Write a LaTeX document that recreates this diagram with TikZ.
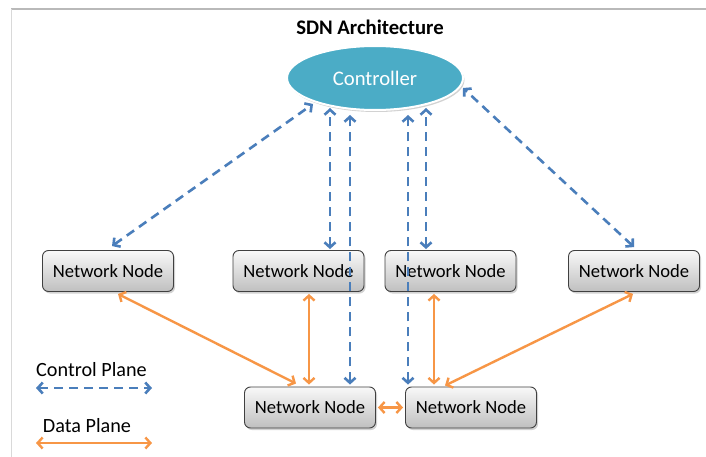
\documentclass[tikz,border=0pt]{standalone}
\usepackage{fontspec}
\setmainfont{Carlito}
\usetikzlibrary{shapes.geometric,arrows.meta,calc,shadows}
\definecolor{ctrlfill}{HTML}{4BACC6}
\definecolor{cplane}{HTML}{4A7EBB}
\definecolor{dplane}{HTML}{F79646}
\definecolor{nodeborder}{HTML}{404040}
\tikzset{
  netnode/.style={draw=nodeborder, line width=0.9pt, rounded corners=6pt,
    top color=white!95!gray, bottom color=gray!50,
    minimum width=131pt, minimum height=41pt, inner sep=0pt,
    font=\fontsize{18.6}{21}\selectfont,
    drop shadow={shadow xshift=1.5pt, shadow yshift=-2pt, opacity=0.35}},
  ctrlnode/.style={ellipse, draw=white, line width=2pt, fill=ctrlfill,
    minimum width=176pt, minimum height=64pt, inner sep=0pt, text=white,
    font=\fontsize{20.7}{23}\selectfont,
    drop shadow={shadow xshift=1.5pt, shadow yshift=-2pt, opacity=0.35}},
  ctrlline/.style={draw=cplane, line width=2.6pt, dash pattern=on 9pt off 6pt,
    {Straight Barb[length=5pt,width=11pt]}-{Straight Barb[length=5pt,width=11pt]}},
  dataline/.style={draw=dplane, line width=2.4pt,
    {Straight Barb[length=5pt,width=11pt]}-{Straight Barb[length=5pt,width=11pt]}},
  legendtext/.style={font=\fontsize{20.2}{23}\selectfont, inner sep=0pt},
}
\begin{document}
\begin{tikzpicture}[x=1pt,y=-1pt]
  \useasboundingbox (0,0) rectangle (706,457);
  \fill[white] (0,0) rectangle (706,457);
  % frame
  \coordinate (f0) at (11,9);
  \coordinate (f1) at (706,9);
  \coordinate (f2) at (11,457);
  \draw[gray!55, line width=1.5pt] (f0) -- (f1);
  \draw[gray!30, line width=1pt] (f0) -- (f2);

  \node[font=\bfseries\fontsize{20.7}{23}\selectfont, inner sep=0pt] (title) at (370,27) {SDN Architecture};
  \node[ctrlnode] (ctrl) at (375,78) {Controller};

  \node[netnode] (n1) at (108,271) {Network Node};
  \node[netnode] (n2) at (298.5,271) {Network Node};
  \node[netnode] (n3) at (450.5,271) {Network Node};
  \node[netnode] (n4) at (634,271) {Network Node};
  \node[netnode] (n5) at (310,407.5) {Network Node};
  \node[netnode] (n6) at (471,407.5) {Network Node};

  % control plane
  \draw[ctrlline] ($(n1.north)+(4,-4)$) -- ($(ctrl.center)+(-62,26)$);
  \draw[ctrlline] ($(n2.north)+(31.5,-1)$) -- ($(ctrl.center)+(-45,30)$);
  \draw[ctrlline] ($(n5.north)+(40,-2)$) -- ($(ctrl.center)+(-25,37)$);
  \draw[ctrlline] ($(n6.north)+(-63,-2)$) -- ($(ctrl.center)+(33,37)$);
  \draw[ctrlline] ($(n3.north)+(-24.5,-1)$) -- ($(ctrl.center)+(51,30)$);
  \draw[ctrlline] ($(n4.north)+(0,-3)$) -- ($(ctrl.center)+(88,10)$);

  % data plane
  \draw[dataline] ($(n1.south)+(10,2)$) -- ($(n5.north)+(-14,-3)$);
  \draw[dataline] ($(n2.south)+(10.5,2)$) -- ($(n5.north)+(-1,-2)$);
  \draw[dataline] ($(n3.south)+(-16.5,2)$) -- ($(n6.north)+(-37,-2)$);
  \draw[dataline] ($(n4.south)+(-1,2)$) -- ($(n6.north)+(-26,-1)$);
  \draw[dataline] ($(n5.east)+(2,0)$) -- ($(n6.west)+(-2,0)$);

  % legend
  \node[legendtext] (lc) at (91.5,370) {Control Plane};
  \coordinate (lca) at (36,388);
  \coordinate (lcb) at (152,388);
  \draw[ctrlline] (lca) -- (lcb);
  \node[legendtext] (ld) at (87,426) {Data Plane};
  \coordinate (lda) at (36,443);
  \coordinate (ldb) at (152,443);
  \draw[dataline] (lda) -- (ldb);
\end{tikzpicture}
\end{document}
